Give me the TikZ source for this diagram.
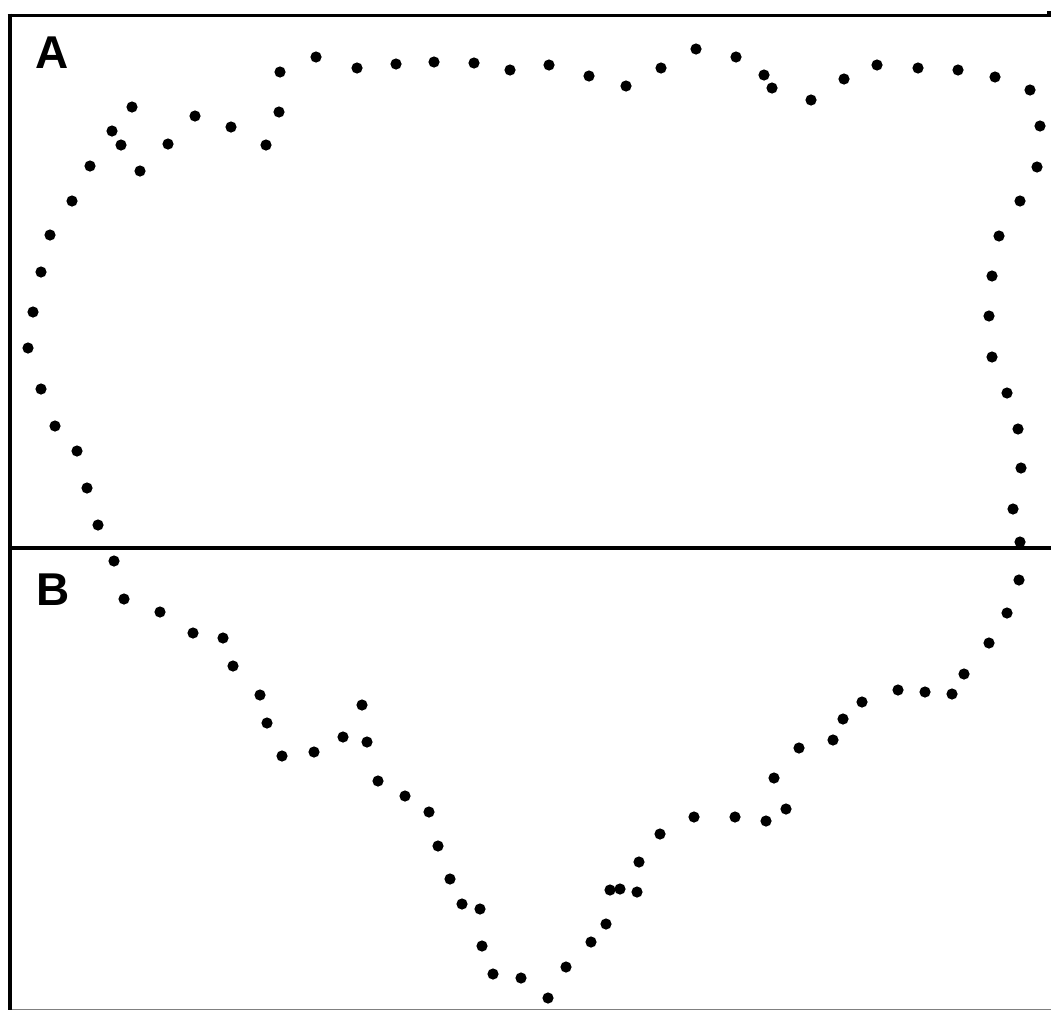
\documentclass[tikz,border=0pt]{standalone}
\usepackage{fontspec}
\setmainfont{Liberation Sans}
\usepackage{tikz}

\begin{document}
\begin{tikzpicture}[x=1pt,y=-1pt]
  \useasboundingbox (0,0) rectangle (1051,1010);
  % frame of the two panels
  \draw[line width=2.6pt] (7.5,15.2) -- (1051,15.2);
  \fill (1047,10.5) rectangle (1051,15.5);
  \draw[line width=4pt] (9.6,13.5) -- (9.6,1010);
  \draw[line width=4.4pt] (9.6,548) -- (1051,548);
  \draw[gray,line width=1.2pt] (11.5,1009.2) -- (1051,1009.2);
  \node[font=\fontsize{46}{46}\selectfont\bfseries,inner sep=0pt] (labA) at (52,52.5) {A};
  \node[font=\fontsize{46}{46}\selectfont\bfseries,inner sep=0pt] (labB) at (53,589.5) {B};
  % panel A
  \foreach \x/\y in {28/348,33/312,41/272,50/235,72/201,90/166,112/131,121/145,132/107,140/171,
                     168/144,195/116,231/127,266/145,279/112,280/72,316/57,357/68,396/64,434/62,
                     474/63,510/70,549/65,589/76,626/86,661/68,696/49,736/57,764/75,772/88,
                     811/100,844/79,877/65,918/68,958/70,995/77,1030/90,1040/126,1037/167,1020/201,
                     999/236,992/276,989/316,992/357,1007/393,1018/429,1021/468,1013/509,1020/542,
                     41/389,55/426,77/451,87/488,98/525}
    \fill (\x,\y) circle (5.6pt);
  % panel B
  \foreach \x/\y in {114/561,124/599,160/612,193/633,223/638,233/666,260/695,267/723,282/756,314/752,
                     343/737,362/705,367/742,378/781,405/796,429/812,438/846,450/879,462/904,480/909,
                     482/946,493/974,521/978,548/998,566/967,591/942,606/924,610/890,620/889,637/892,
                     639/862,660/834,694/817,735/817,766/821,786/809,774/778,799/748,833/740,843/719,
                     862/702,898/690,925/692,952/694,964/674,989/643,1007/613,1019/580}
    \fill (\x,\y) circle (5.6pt);
\end{tikzpicture}
\end{document}
